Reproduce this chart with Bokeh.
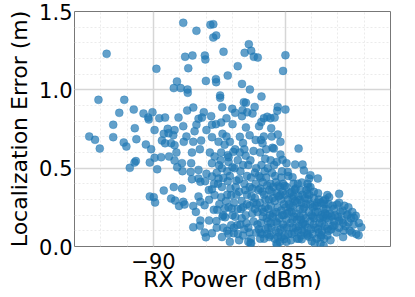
from bokeh.plotting import figure
from bokeh.models import SingleIntervalTicker, NumeralTickFormatter, ColumnDataSource
from bokeh.embed import file_html
from bokeh.resources import INLINE

# --- data (RX power in dBm, localization error in m) ---
rx_a = [-88.87, -88.37, -87.84, -87.73, -87.73, -87.62,
        -91.78, -88.80, -88.52, -88.05, -88.03, -87.34,
        -88.68, -89.89, -87.18, -88.01, -87.63, -87.62,
        -89.11, -89.23, -88.97, -88.71, -88.70, -87.47,
        -87.47, -92.09, -91.11, -87.39, -87.01, -91.30,
        -90.75, -90.38, -90.04, -90.20, -90.18, -89.78,
        -89.56, -89.05, -88.72, -88.49, -88.09, -87.81,
        -88.29, -88.16, -88.37, -88.87, -91.53, -90.71,
        -89.96, -89.46, -89.20, -87.78, -87.63, -87.43,
        -87.23, -87.00, -87.99]
err_a = [1.428, 1.377, 1.415, 1.419, 1.334, 1.347,
         1.230, 1.211, 1.219, 1.219, 1.194, 1.243,
         1.138, 1.134, 1.091, 1.057, 1.068, 1.049,
         1.053, 1.011, 1.011, 1.002, 0.981, 0.964,
         0.949, 0.936, 0.936, 0.889, 0.879, 0.853,
         0.874, 0.849, 0.857, 0.823, 0.811, 0.819,
         0.823, 0.823, 0.868, 0.887, 0.857, 0.832,
         0.815, 0.823, 0.777, 0.768, 0.777, 0.755,
         0.743, 0.751, 0.743, 0.777, 0.781, 0.791,
         0.819, 0.781, 0.743]

rx_b = [-86.38, -86.54, -86.29, -86.19, -86.04, -84.99,
        -86.80, -85.08, -86.64, -86.34, -85.90, -86.57,
        -86.49, -86.16, -85.28, -84.99, -85.30, -86.90,
        -86.62, -86.44, -86.24, -86.64, -85.81, -85.68,
        -85.56, -85.40, -85.91, -85.99, -86.49, -85.53]
err_b = [1.291, 1.236, 1.249, 1.211, 1.206, 1.221,
         1.151, 1.121, 1.038, 1.002, 0.957, 0.921,
         0.917, 0.891, 0.891, 0.874, 0.866, 0.853,
         0.870, 0.857, 0.849, 0.832, 0.819, 0.828,
         0.819, 0.823, 0.794, 0.768, 0.760, 0.755]

rx_c = [-92.44, -92.22, -92.04, -91.53, -91.13, -91.03,
        -90.65, -90.29, -90.09, -90.67, -90.72, -90.90,
        -90.14, -89.86, -89.96, -89.71, -89.68, -89.56,
        -89.61, -89.43, -89.25, -89.33, -89.20, -89.13,
        -89.41, -89.20, -88.92, -89.10, -88.85, -88.75,
        -88.49, -88.44, -88.54, -88.19, -88.24, -87.78,
        -87.38, -87.53, -87.23, -87.10, -87.86, -87.68,
        -87.43, -87.18, -86.97, -87.78, -87.51, -87.15,
        -87.00, -88.57, -88.90, -88.59, -88.29, -87.99,
        -88.54, -88.29, -88.22, -88.04, -87.78, -87.53,
        -87.35, -87.18, -87.08, -87.05, -87.03, -89.61,
        -89.23, -88.92, -90.14, -89.99, -89.94, -89.33,
        -89.18, -88.87, -88.82, -89.03, -88.49, -88.29,
        -88.22, -88.06, -87.89, -87.78, -87.68, -87.43,
        -87.30, -87.58, -87.71, -88.39, -88.22, -88.49,
        -88.24, -87.89, -87.61, -87.38, -87.28, -87.05,
        -87.78, -88.01, -87.15, -88.06]
err_c = [0.702, 0.681, 0.625, 0.698, 0.664, 0.638,
         0.685, 0.651, 0.621, 0.545, 0.536, 0.502,
         0.536, 0.493, 0.566, 0.570, 0.676, 0.659,
         0.719, 0.723, 0.710, 0.659, 0.647, 0.600,
         0.574, 0.549, 0.532, 0.506, 0.668, 0.702,
         0.668, 0.736, 0.600, 0.676, 0.621, 0.698,
         0.719, 0.668, 0.702, 0.668, 0.600, 0.574,
         0.600, 0.583, 0.604, 0.532, 0.519, 0.540,
         0.506, 0.532, 0.481, 0.476, 0.489, 0.464,
         0.430, 0.434, 0.413, 0.417, 0.447, 0.434,
         0.438, 0.417, 0.370, 0.328, 0.242, 0.357,
         0.379, 0.370, 0.319, 0.315, 0.281, 0.306,
         0.293, 0.285, 0.268, 0.259, 0.259, 0.319,
         0.285, 0.264, 0.298, 0.366, 0.328, 0.315,
         0.242, 0.234, 0.234, 0.221, 0.166, 0.123,
         0.132, 0.166, 0.162, 0.191, 0.187, 0.136,
         0.085, 0.059, 0.081, 0.089]

rx_d = [-84.49, -85.28, -85.18, -85.51, -85.81, -85.86,
        -85.43, -85.18, -85.10, -84.95, -84.62, -84.34,
        -84.29, -84.90, -84.72, -84.37, -84.09, -84.04,
        -83.76, -83.40, -83.33, -82.95, -83.91, -84.04,
        -84.16, -84.44, -84.72, -84.64, -85.02, -85.18,
        -83.78, -83.51, -83.03, -82.82, -82.62, -82.39,
        -82.32, -82.11, -82.21, -82.47, -82.77, -82.59,
        -82.95, -83.23, -83.13, -83.40, -83.63, -83.66,
        -83.99, -84.16, -84.37, -85.05, -85.33, -85.56,
        -86.29, -85.94, -86.82, -86.95]
err_d = [0.625, 0.715, 0.668, 0.702, 0.702, 0.659,
         0.625, 0.587, 0.553, 0.532, 0.523, 0.523,
         0.485, 0.476, 0.442, 0.408, 0.434, 0.455,
         0.434, 0.328, 0.315, 0.336, 0.349, 0.379,
         0.336, 0.298, 0.306, 0.362, 0.387, 0.328,
         0.281, 0.272, 0.268, 0.230, 0.204, 0.183,
         0.196, 0.123, 0.072, 0.089, 0.102, 0.153,
         0.166, 0.191, 0.136, 0.115, 0.072, 0.017,
         0.034, 0.081, 0.047, 0.047, 0.017, 0.072,
         0.021, 0.089, 0.136, 0.085]

# dense core of the cloud (estimated)
rx_e = [-86.90, -86.80, -86.70, -86.60, -86.50, -86.40,
        -86.30, -86.20, -86.10, -86.85, -86.75, -86.65,
        -86.55, -86.45, -86.35, -86.25, -86.15, -86.05,
        -86.90, -86.70, -86.50, -86.40, -86.20, -86.10,
        -86.60, -86.30, -86.95, -86.80, -86.45, -86.60,
        -86.00, -86.02, -86.12, -86.35, -86.72, -85.95,
        -85.90, -85.85, -85.80, -85.75, -85.70, -85.65,
        -85.60, -85.55, -85.50, -85.45, -85.40, -85.35,
        -85.30, -85.25, -85.20, -85.15, -85.10, -85.05,
        -85.92, -85.88, -85.82, -85.78, -85.72, -85.68,
        -85.62, -85.58, -85.52, -85.48, -85.42, -85.38,
        -85.32, -85.28, -85.22, -85.18, -85.12, -85.08,
        -85.02, -85.96, -85.86, -85.76, -85.66, -85.56,
        -85.46, -85.36, -85.26, -85.16, -85.06, -85.94,
        -85.64, -84.95, -84.90, -84.85, -84.80, -84.75,
        -84.70, -84.65, -84.60, -84.55, -84.50, -84.45,
        -84.40, -84.35, -84.30, -84.25, -84.20, -84.15,
        -84.10, -84.05, -84.92, -84.88, -84.82, -84.78,
        -84.68, -84.62, -84.58, -84.48, -84.42, -84.38,
        -84.28, -84.22, -84.12, -84.02, -84.98, -84.72,
        -84.52, -84.32, -84.08, -83.95, -83.90, -83.85,
        -83.80, -83.75, -83.70, -83.65, -83.60, -83.55,
        -83.50, -83.45, -83.40, -83.35, -83.30, -83.25,
        -83.20, -83.15, -83.10, -83.05, -83.92, -83.72,
        -83.48, -83.28, -83.88, -83.62, -82.95, -82.90,
        -82.85, -82.75, -82.70, -82.65, -82.55, -82.50,
        -82.40, -82.30, -82.20, -82.80, -82.60, -82.45,
        -87.30, -87.20, -87.40, -87.10, -87.25, -87.35,
        -87.15, -87.45, -87.60, -87.70, -87.90, -87.50,
        -87.60, -87.20, -87.40, -87.10, -86.32, -85.30,
        -83.54]
err_e = [0.62, 0.55, 0.48, 0.66, 0.58, 0.52,
         0.44, 0.61, 0.50, 0.42, 0.35, 0.29,
         0.40, 0.33, 0.26, 0.37, 0.31, 0.22,
         0.19, 0.14, 0.20, 0.12, 0.16, 0.09,
         0.07, 0.05, 0.28, 0.24, 0.45, 0.52,
         0.45, 0.36, 0.68, 0.71, 0.70, 0.60,
         0.52, 0.41, 0.33, 0.25, 0.18, 0.12,
         0.06, 0.55, 0.47, 0.38, 0.29, 0.22,
         0.15, 0.09, 0.03, 0.44, 0.35, 0.27,
         0.15, 0.08, 0.22, 0.48, 0.62, 0.39,
         0.30, 0.20, 0.12, 0.63, 0.52, 0.45,
         0.34, 0.25, 0.18, 0.11, 0.20, 0.14,
         0.07, 0.28, 0.35, 0.56, 0.50, 0.40,
         0.31, 0.10, 0.39, 0.30, 0.20, 0.44,
         0.24, 0.38, 0.30, 0.22, 0.15, 0.08,
         0.26, 0.19, 0.12, 0.05, 0.32, 0.24,
         0.17, 0.10, 0.20, 0.14, 0.27, 0.07,
         0.22, 0.16, 0.12, 0.45, 0.34, 0.04,
         0.40, 0.29, 0.21, 0.13, 0.36, 0.28,
         0.09, 0.18, 0.30, 0.11, 0.25, 0.17,
         0.10, 0.24, 0.06, 0.25, 0.18, 0.12,
         0.05, 0.22, 0.15, 0.28, 0.10, 0.19,
         0.13, 0.24, 0.07, 0.17, 0.21, 0.11,
         0.26, 0.16, 0.20, 0.09, 0.31, 0.30,
         0.30, 0.04, 0.02, 0.20, 0.12, 0.22,
         0.17, 0.26, 0.13, 0.20, 0.10, 0.18,
         0.14, 0.08, 0.15, 0.06, 0.25, 0.22,
         0.65, 0.48, 0.38, 0.45, 0.29, 0.20,
         0.25, 0.55, 0.47, 0.40, 0.36, 0.27,
         0.12, 0.10, 0.06, 0.03, 0.02, 0.01,
         0.005]

rx_f = [-86.85, -86.65, -86.45, -86.25, -86.05, -85.85,
        -85.65, -85.45, -85.25, -85.05, -84.85, -84.65,
        -84.45, -84.25, -84.05, -83.85, -83.65, -83.45,
        -86.75, -86.55, -86.35, -86.15, -85.95, -85.75,
        -85.55, -85.35, -85.15, -84.95, -84.75, -84.55,
        -84.35, -84.15, -83.95, -83.75, -83.55, -83.35,
        -86.92, -86.72, -86.52, -86.32, -86.12, -85.92,
        -85.72, -85.52, -85.32, -85.12, -84.92, -84.72,
        -84.52, -84.32, -84.12, -83.92, -83.72, -83.52,
        -87.40, -87.20, -87.00, -86.80, -86.60, -86.40,
        -86.20, -86.00, -85.80, -85.60, -85.40, -85.20,
        -85.00, -84.80, -84.60, -84.40, -84.20, -84.00,
        -83.80, -83.60, -83.40, -83.20, -83.00, -82.80,
        -87.55, -87.35, -87.15, -86.95, -86.75, -86.55,
        -86.35, -86.15, -85.95, -85.75, -85.55, -85.35,
        -85.15, -84.95, -84.75, -84.55, -84.35, -84.15,
        -83.95, -83.75, -83.55, -83.35, -83.15, -82.95,
        -86.88, -86.68, -86.48, -86.28, -86.08, -85.88,
        -85.68, -85.48, -85.28, -85.08, -84.88, -84.68,
        -84.48, -84.28, -84.08, -83.88, -83.68, -83.48]
err_f = [0.33, 0.18, 0.27, 0.21, 0.14, 0.19,
         0.16, 0.21, 0.32, 0.12, 0.27, 0.09,
         0.19, 0.31, 0.27, 0.22, 0.06, 0.18,
         0.43, 0.11, 0.38, 0.47, 0.37, 0.30,
         0.26, 0.41, 0.23, 0.17, 0.35, 0.28,
         0.33, 0.12, 0.08, 0.34, 0.24, 0.27,
         0.50, 0.60, 0.36, 0.55, 0.40, 0.68,
         0.44, 0.35, 0.54, 0.48, 0.21, 0.12,
         0.40, 0.15, 0.38, 0.14, 0.09, 0.05,
         0.50, 0.33, 0.20, 0.08, 0.25, 0.03,
         0.28, 0.11, 0.05, 0.36, 0.05, 0.38,
         0.33, 0.25, 0.37, 0.07, 0.36, 0.20,
         0.26, 0.15, 0.20, 0.13, 0.19, 0.15,
         0.40, 0.12, 0.57, 0.12, 0.04, 0.62,
         0.09, 0.24, 0.05, 0.11, 0.15, 0.16,
         0.06, 0.03, 0.22, 0.17, 0.14, 0.40,
         0.19, 0.11, 0.29, 0.10, 0.24, 0.28,
         0.38, 0.24, 0.15, 0.32, 0.27, 0.24,
         0.08, 0.19, 0.06, 0.40, 0.08, 0.32,
         0.05, 0.25, 0.33, 0.26, 0.18, 0.21]

x_label = "RX Power (dBm)"
y_label = "Localization Error (m)"
x_tick_labels = {-90: "\u221290", -85: "\u221285"}

rx = rx_a + rx_b + rx_c + rx_d + rx_e + rx_f
err = err_a + err_b + err_c + err_d + err_e + err_f
src = ColumnDataSource(data=dict(rx=rx, err=err))

FONT = "DejaVu Sans"
W, H = 410, 296
p = figure(width=W, height=H, x_range=(-93, -81), y_range=(0, 1.5),
           output_backend="svg", toolbar_location=None,
           min_border_left=74, min_border_right=W - 390,
           min_border_top=11, min_border_bottom=H - 246)
p.background_fill_color = "white"
p.border_fill_color = "white"
p.outline_line_color = "#777777"
p.outline_line_width = 1

p.xaxis.ticker = SingleIntervalTicker(interval=5, num_minor_ticks=5)
p.yaxis.ticker = SingleIntervalTicker(interval=0.5, num_minor_ticks=5)
p.yaxis.formatter = NumeralTickFormatter(format="0.0")
p.xaxis.major_label_overrides = x_tick_labels

for ax in (p.xaxis, p.yaxis):
    ax.axis_line_color = None
    ax.major_tick_line_color = None
    ax.minor_tick_line_color = None
    ax.major_tick_out = 0
    ax.major_tick_in = 0
    ax.minor_tick_out = 0
    ax.minor_tick_in = 0
    ax.major_label_text_font = FONT
    ax.major_label_text_font_size = "21px"
    ax.major_label_text_color = "black"
    ax.axis_label_text_font = FONT
    ax.axis_label_text_font_size = "22px"
    ax.axis_label_text_font_style = "normal"
    ax.axis_label_text_color = "black"

p.xaxis.axis_label = x_label
p.yaxis.axis_label = y_label
p.xaxis.major_label_standoff = 6
p.xaxis.axis_label_standoff = -5
p.yaxis.major_label_standoff = 2
p.yaxis.axis_label_standoff = 4

for g in (p.xgrid, p.ygrid):
    g.grid_line_color = "#d6d6d6"
    g.grid_line_width = 1.5
    g.minor_grid_line_color = "#ebebeb"
    g.minor_grid_line_width = 1
    g.minor_grid_line_dash = "2 2"

p.scatter("rx", "err", source=src, size=8, fill_color="#1f77b4", fill_alpha=0.7,
          line_color="#1f77b4", line_alpha=0.7, line_width=0.5)

open("out.html", "w").write(file_html(p, INLINE))
